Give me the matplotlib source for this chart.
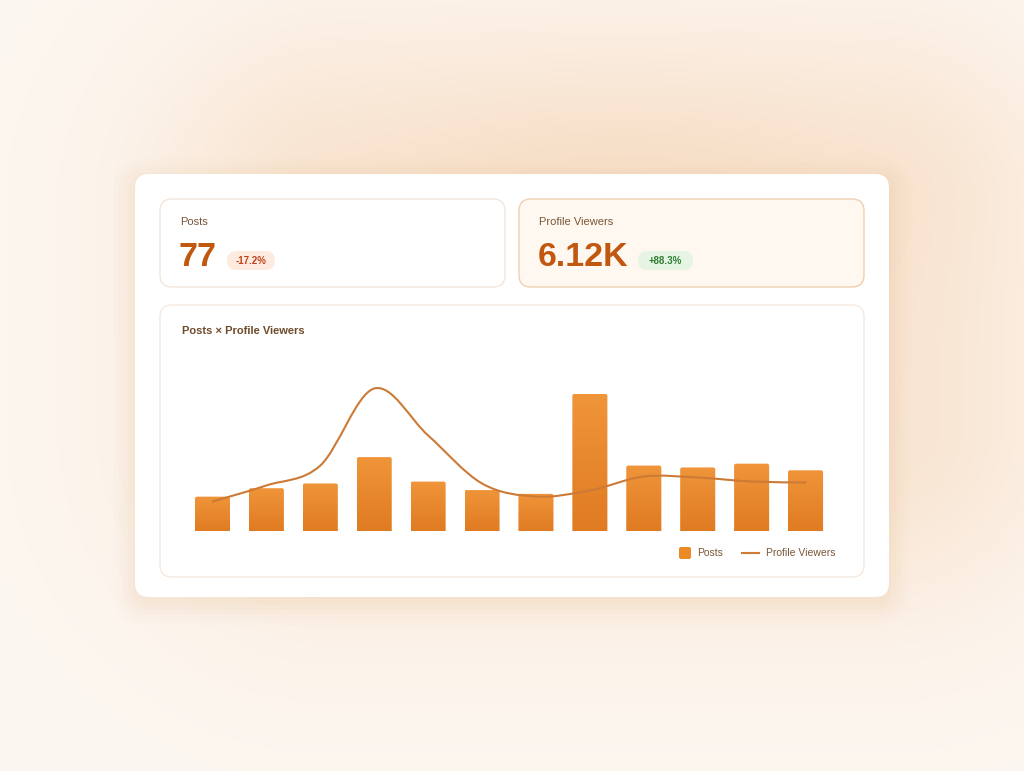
import numpy as np
import matplotlib
matplotlib.use("Agg")
import matplotlib.pyplot as plt
from matplotlib.patches import FancyBboxPatch
from matplotlib.path import Path
from matplotlib.patches import PathPatch

plt.rcParams['font.family'] = ['Liberation Sans', 'DejaVu Sans']

# data
months = list(range(12))
posts = [3.7, 4.6, 5.1, 7.9, 5.3, 4.4, 4.0, 14.6, 7.0, 6.8, 7.2, 6.5]
viewers = [257, 395, 566, 1227, 824, 412, 300, 352, 472, 463, 429, 420]
kpi_labels = ["Posts", "Profile Viewers"]
kpi_values = ["77", "6.12K"]
kpi_deltas = ["-17.2%", "+88.3%"]
chart_title = "Posts × Profile Viewers"

W, H = 1024, 771
fig = plt.figure(figsize=(W / 100, H / 100), dpi=100)

# background axes in pixel coordinates
bg = fig.add_axes([0, 0, 1, 1])
bg.set_xlim(0, W)
bg.set_ylim(H, 0)
bg.axis('off')

# soft peach glow behind the card
yy, xx = np.mgrid[0:H, 0:W]
base = np.array([253, 247, 241]) / 255.0
glow = np.array([245, 214, 184]) / 255.0
dx = np.maximum(np.maximum(330 - xx, xx - 880), 0)
dy = np.maximum(np.maximum(210 - yy, yy - 430), 0)
d = np.sqrt(dx ** 2 + dy ** 2)
g = 0.55 * np.exp(-(d / 190.0) ** 2)
g += 0.2 * np.exp(-(((xx - 620) / 260.0) ** 2 + ((yy - 170) / 110.0) ** 2))
g = np.clip(g, 0, 1)[..., None]
img = base * (1 - g) + glow * g
bg.imshow(img, extent=(0, W, H, 0), aspect='auto', zorder=0)


def rbox(x0, y0, x1, y1, r, fc, ec='none', lw=0, z=1, alpha=1.0):
    p = FancyBboxPatch((x0 + r, y0 + r), (x1 - x0) - 2 * r, (y1 - y0) - 2 * r,
                       boxstyle=f"round,pad={r}", fc=fc, ec=ec, lw=lw,
                       zorder=z, alpha=alpha)
    bg.add_patch(p)
    return p


# main card shadow + card
for i, a in enumerate([0.06, 0.05, 0.04, 0.03, 0.02]):
    s = 2 + i * 5
    rbox(135 - s, 174 - s + 6, 889 + s, 597 + s + 6, 14 + s, '#e7b88c', z=1, alpha=a)
rbox(135, 174, 889, 597, 14, '#ffffff', z=2)

# KPI cards
rbox(160, 199, 505, 287, 12, '#ffffff', ec='#f3e7dc', lw=1, z=3)
rbox(519, 199, 864, 287, 12, '#fff8f0', ec='#f0d0b2', lw=1, z=3)
# chart card
rbox(160, 305, 864, 577, 12, '#ffffff', ec='#f3e9e0', lw=1, z=3)

lab_col = '#7a5636'
val_col = '#c0580f'
badge_fc = ['#fdebdf', '#e6f4e4']
badge_tc = ['#c0431c', '#2e7d32']
badge_w = [48, 55]
card_x = [180, 539]
val_w = [38, 90]

for i in range(2):
    bg.text(card_x[i], 222, kpi_labels[i], fontsize=8, color=lab_col,
            va='center', ha='left', zorder=5)
    bg.text(card_x[i] - 1, 266, kpi_values[i], fontsize=24.5, fontweight='bold',
            color=val_col, va='baseline', ha='left', zorder=5)
    bx = card_x[i] + val_w[i] + 9
    rbox(bx, 251, bx + badge_w[i], 270, 9.5, badge_fc[i], z=4)
    bg.text(bx + badge_w[i] / 2, 261, kpi_deltas[i], fontsize=7, fontweight='bold',
            color=badge_tc[i], va='center', ha='center', zorder=5)

bg.text(182, 331, chart_title, fontsize=8, fontweight='bold', color='#6e4a2a',
        va='center', ha='left', zorder=5)

# legend
bar_top = '#f0953a'
bar_bot = '#e07b22'
line_col = '#cc7a36'
rbox(679, 547, 691, 559, 2, '#ec8a25', z=5)
bg.text(697, 553, "Posts", fontsize=7.5, color=lab_col, va='center', ha='left', zorder=5)
bg.plot([742, 759], [553, 553], color=line_col, lw=1.5, zorder=5)
bg.text(766, 553, "Profile Viewers", fontsize=7.5, color=lab_col, va='center',
        ha='left', zorder=5)

# chart axes
ax_l, ax_r, ax_b, ax_t = 185.5, 832.5, 531.5, 365.0
ax = fig.add_axes([ax_l / W, 1 - ax_b / H, (ax_r - ax_l) / W, (ax_b - ax_t) / H])
ax.patch.set_alpha(0)
ax.axis('off')
ymax_bar = 14.6 * (ax_b - ax_t) / 137.5
ax.set_xlim(-0.5, 11.5)
ax.set_ylim(0, ymax_bar)

bw = 0.65
px_x = (ax_r - ax_l) / 12.0
px_y = (ax_b - ax_t) / ymax_bar
rad = 2.0 / px_x
grad = np.linspace(0, 1, 256)[:, None]
cmap = matplotlib.colors.LinearSegmentedColormap.from_list('b', [bar_bot, bar_top])
for x, v in zip(months, posts):
    p = FancyBboxPatch((x - bw / 2 + rad, 0), bw - 2 * rad, v - rad * px_x / px_y,
                       boxstyle=f"round,pad={rad}", mutation_aspect=px_x / px_y,
                       fc='none', ec='none')
    ax.add_patch(p)
    im = ax.imshow(grad, extent=(x - bw / 2, x + bw / 2, 0, v), origin='lower',
                   cmap=cmap, aspect='auto', zorder=2)
    im.set_clip_path(p)
ax.set_xlim(-0.5, 11.5)
ax.set_ylim(0, ymax_bar)

# smooth line on twin axis
ax2 = ax.twinx()
ax2.axis('off')
ax2.set_ylim(0, 1227 * (ax_b - ax_t) / 143.0)
pts = np.column_stack([months, viewers]).astype(float)
n = len(pts)
verts = [pts[0]]
codes = [Path.MOVETO]
k = 1 / 6.0
for i in range(n - 1):
    p0 = pts[max(i - 1, 0)]
    p1 = pts[i]
    p2 = pts[i + 1]
    p3 = pts[min(i + 2, n - 1)]
    verts += [p1 + (p2 - p0) * k, p2 - (p3 - p1) * k, p2]
    codes += [Path.CURVE4] * 3
ax2.add_patch(PathPatch(Path(verts, codes), fc='none', ec=line_col, lw=1.5,
                        zorder=5, capstyle='round'))
ax2.set_xlim(-0.5, 11.5)

fig.savefig("out.png", dpi=100)
